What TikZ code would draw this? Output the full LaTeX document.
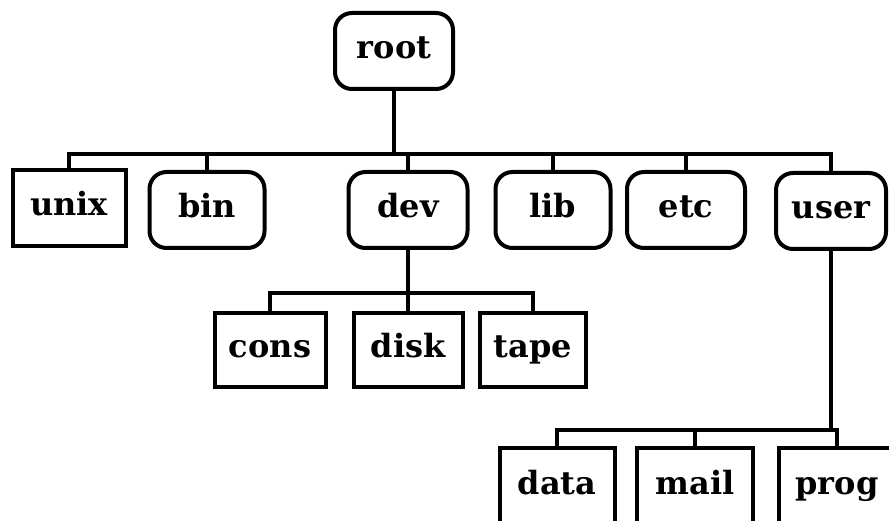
\documentclass[tikz,border=0pt]{standalone}
\usepackage{fontspec}
\setmainfont{DejaVu Serif}
\begin{document}
\begin{tikzpicture}[x=1pt, y=-1pt,
  item/.style={draw, line width=4pt, inner sep=0pt, minimum height=76pt,
    text height=16pt, text depth=0pt, font=\fontsize{32}{32}\selectfont\bfseries},
  dirbox/.style={item, rounded corners=17pt, minimum height=76pt},
  filebox/.style={item, minimum height=73pt},
  wire/.style={line width=3.4pt, line cap=rect}]
  \useasboundingbox (0,0) rectangle (889,521);
  \clip (0,0) rectangle (889,521);

  % top level
  \node[dirbox, minimum width=118pt] (root) at (394,51) {root};

  % children of root
  \node[filebox, minimum width=113pt, minimum height=76pt] (unix) at (69,208) {unix};
  \node[dirbox, minimum width=115pt] (bin)  at (207,210) {bin};
  \node[dirbox, minimum width=119pt] (dev)  at (408,210) {dev};
  \node[dirbox, minimum width=115pt] (lib)  at (553,210) {lib};
  \node[dirbox, minimum width=118pt] (etc)  at (686,210) {etc};
  \node[dirbox, minimum width=110pt] (user) at (831,211) {user};

  % children of dev
  \node[filebox, minimum width=111pt] (cons) at (270,350) {cons};
  \node[filebox, minimum width=109pt] (disk) at (408,350) {disk};
  \node[filebox, minimum width=106pt] (tape) at (533,350) {tape};

  % children of user
  \node[filebox, minimum width=115pt, minimum height=76pt] (data) at (557,486) {data};
  \node[filebox, minimum width=116pt, minimum height=76pt] (mail) at (695,486) {mail};
  \node[filebox, minimum width=116pt, minimum height=76pt] (prog) at (837,486) {prog};

  % bus lines
  \coordinate (busA) at (0,154);
  \coordinate (busB) at (0,293);
  \coordinate (busC) at (0,430);

  % root -> first level
  \draw[wire] (root.south) -- (root.south |- busA);
  \draw[wire] (unix.north |- busA) -- (user.north |- busA);
  \foreach \n in {unix,bin,dev,lib,etc,user}
    \draw[wire] (\n.north |- busA) -- (\n.north);

  % dev -> devices
  \draw[wire] (dev.south) -- (dev.south |- busB);
  \draw[wire] (cons.north |- busB) -- (tape.north |- busB);
  \foreach \n in {cons,disk,tape}
    \draw[wire] (\n.north |- busB) -- (\n.north);

  % user -> user files
  \draw[wire] (user.south) -- (user.south |- busC);
  \draw[wire] (data.north |- busC) -- (prog.north |- busC);
  \foreach \n in {data,mail,prog}
    \draw[wire] (\n.north |- busC) -- (\n.north);
\end{tikzpicture}
\end{document}
